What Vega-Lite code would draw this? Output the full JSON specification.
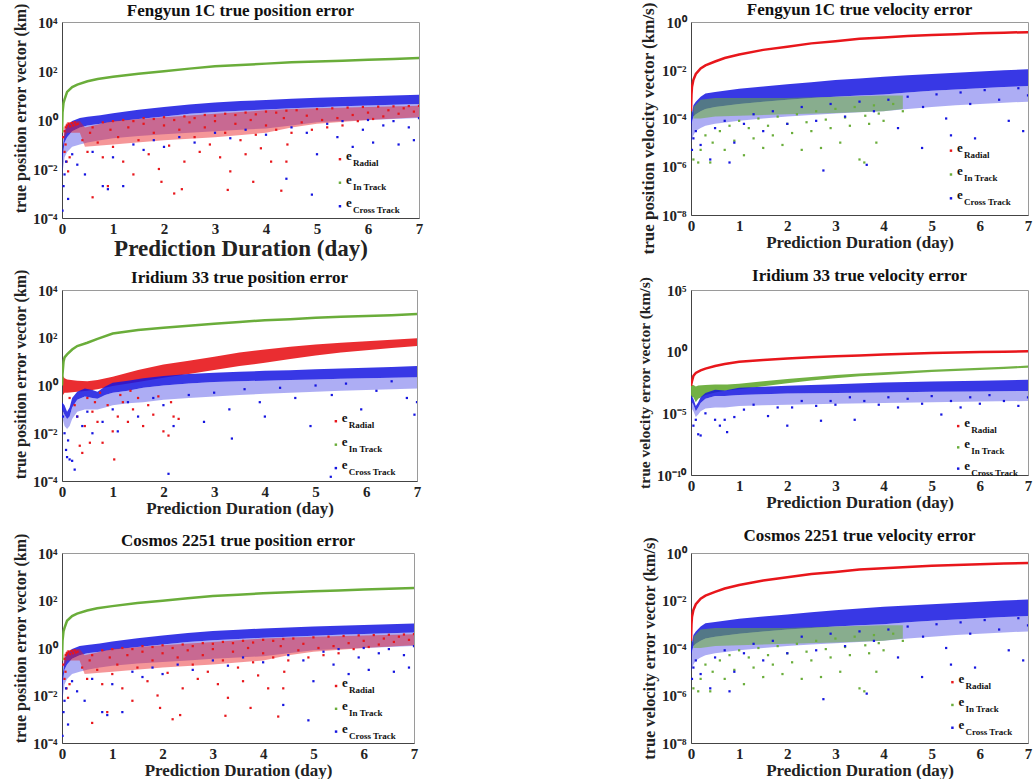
{
"$schema":"https://vega.github.io/schema/vega-lite/v6.json",
"background":"white",
"padding":{"left":12,"top":0,"right":0,"bottom":0},
"columns":2,
"spacing":{"row":72,"column":272},
"bounds":"flush",
"datasets":{
"leg":[{"s":"Radial","k":0},{"s":"In Track","k":1},{"s":"Cross Track","k":2}],
"fp_green":[{"t":0,"v":0.3},{"t":0.01,"v":2},{"t":0.03,"v":5},{"t":0.05,"v":7},{"t":0.1,"v":14},{"t":0.2,"v":22},{"t":0.3,"v":28},{"t":0.5,"v":38},{"t":0.7,"v":47},{"t":1,"v":58},{"t":1.5,"v":78},{"t":2,"v":98},{"t":2.5,"v":125},{"t":3,"v":155},{"t":3.5,"v":175},{"t":4,"v":200},{"t":4.5,"v":225},{"t":5,"v":245},{"t":5.5,"v":265},{"t":6,"v":288},{"t":6.5,"v":310},{"t":7,"v":340}],
"fp_bband":[{"t":0,"v":0.04,"m":0.02,"lo":0.005},{"t":0.05,"v":0.35,"m":0.12,"lo":0.03},{"t":0.1,"v":0.6,"m":0.2,"lo":0.05},{"t":0.2,"v":0.9,"m":0.35,"lo":0.08},{"t":0.35,"v":1.2,"m":0.5,"lo":0.1},{"t":0.5,"v":1.35,"m":0.6,"lo":0.12},{"t":0.75,"v":1.55,"m":0.7,"lo":0.15},{"t":1,"v":1.9,"m":0.85,"lo":0.18},{"t":1.5,"v":2.6,"m":1.1,"lo":0.22},{"t":2,"v":3.4,"m":1.4,"lo":0.26},{"t":2.5,"v":4.3,"m":1.8,"lo":0.3},{"t":3,"v":5.2,"m":2.1,"lo":0.35},{"t":3.5,"v":5.9,"m":2.4,"lo":0.4},{"t":4,"v":6.6,"m":2.7,"lo":0.45},{"t":4.5,"v":7.3,"m":3.0,"lo":0.6},{"t":5,"v":8.0,"m":3.3,"lo":0.8},{"t":5.5,"v":8.6,"m":3.6,"lo":0.9},{"t":6,"v":9.3,"m":3.9,"lo":1.0},{"t":6.5,"v":10,"m":4.2,"lo":1.1},{"t":7,"v":10.7,"m":4.5,"lo":1.2}],
"fp_rband":[{"t":0.03,"v":0.5,"lo":0.15},{"t":0.1,"v":0.8,"lo":0.3},{"t":0.35,"v":0.9,"lo":0.3},{"t":0.45,"v":0.5,"lo":0.08},{"t":1,"v":0.9,"lo":0.1},{"t":2,"v":1.3,"lo":0.15},{"t":3,"v":1.8,"lo":0.2},{"t":4,"v":2.5,"lo":0.3},{"t":4.5,"v":2.8,"lo":0.5},{"t":5,"v":3.0,"lo":0.7},{"t":6,"v":3.4,"lo":1.0},{"t":7,"v":3.8,"lo":1.3}],
"fp_red":[{"t":0.02,"v":0.2},{"t":0.05,"v":0.35},{"t":0.08,"v":0.5},{"t":0.1,"v":0.6},{"t":0.13,"v":0.7},{"t":0.16,"v":0.55},{"t":0.19,"v":0.75},{"t":0.22,"v":0.6},{"t":0.25,"v":0.8},{"t":0.28,"v":0.65},{"t":0.31,"v":0.7},{"t":0.05,"v":0.05},{"t":0.09,"v":0.02},{"t":0.12,"v":0.008},{"t":0.07,"v":0.1},{"t":0.15,"v":0.03},{"t":0.4,"v":0.15},{"t":0.5,"v":0.05},{"t":0.6,"v":0.0007},{"t":0.55,"v":0.3},{"t":0.7,"v":0.12},{"t":0.8,"v":0.03},{"t":0.9,"v":0.002},{"t":0.95,"v":0.4},{"t":1.0,"v":0.08},{"t":1.1,"v":0.2},{"t":1.2,"v":0.02},{"t":1.3,"v":0.5},{"t":1.4,"v":0.006},{"t":1.5,"v":0.15},{"t":1.6,"v":0.7},{"t":1.7,"v":0.04},{"t":1.8,"v":0.3},{"t":1.9,"v":0.01},{"t":1.95,"v":0.003},{"t":2.0,"v":0.6},{"t":2.1,"v":0.09},{"t":2.2,"v":0.001},{"t":2.3,"v":0.4},{"t":2.35,"v":0.0015},{"t":2.4,"v":0.02},{"t":2.5,"v":0.8},{"t":2.6,"v":0.2},{"t":2.7,"v":0.05},{"t":2.8,"v":0.5},{"t":2.9,"v":0.1},{"t":3.0,"v":0.9},{"t":3.1,"v":0.03},{"t":3.2,"v":0.3},{"t":3.25,"v":0.0014},{"t":3.3,"v":0.008},{"t":3.4,"v":0.7},{"t":3.5,"v":0.15},{"t":3.6,"v":0.04},{"t":3.7,"v":1.0},{"t":3.75,"v":0.003},{"t":3.8,"v":0.25},{"t":3.9,"v":0.07},{"t":4.0,"v":0.6},{"t":4.1,"v":0.02},{"t":4.2,"v":0.4},{"t":4.3,"v":0.0013},{"t":4.35,"v":1.2},{"t":4.4,"v":0.02},{"t":4.42,"v":0.1},{"t":0.6,"v":0.5},{"t":0.8,"v":0.8},{"t":1.0,"v":0.9},{"t":1.2,"v":1.0},{"t":1.4,"v":0.9},{"t":1.6,"v":1.2},{"t":1.8,"v":1.1},{"t":2.0,"v":1.3},{"t":2.2,"v":1.0},{"t":2.4,"v":1.4},{"t":2.6,"v":1.2},{"t":2.8,"v":1.6},{"t":3.0,"v":1.5},{"t":3.2,"v":1.8},{"t":3.4,"v":1.6},{"t":3.6,"v":2.0},{"t":3.8,"v":1.7},{"t":4.0,"v":2.2},{"t":4.2,"v":2.0},{"t":4.4,"v":2.4},{"t":4.5,"v":0.3},{"t":4.6,"v":2.5},{"t":4.7,"v":0.8},{"t":4.8,"v":1.5},{"t":4.9,"v":0.4},{"t":5.0,"v":2.8},{"t":5.1,"v":1.0},{"t":5.2,"v":0.5},{"t":5.3,"v":3.0},{"t":5.4,"v":1.2},{"t":5.5,"v":0.6},{"t":5.6,"v":3.2},{"t":5.7,"v":1.6},{"t":5.8,"v":0.9},{"t":5.9,"v":3.4},{"t":6.0,"v":2.0},{"t":6.1,"v":1.1},{"t":6.2,"v":3.5},{"t":6.3,"v":1.4},{"t":6.4,"v":2.5},{"t":6.5,"v":3.6},{"t":6.6,"v":1.8},{"t":6.7,"v":3.0},{"t":6.8,"v":3.7},{"t":6.9,"v":2.2},{"t":7.0,"v":3.8}],
"fp_blue":[{"t":0.01,"v":0.0002},{"t":0.03,"v":0.002},{"t":0.05,"v":0.006},{"t":0.08,"v":0.02},{"t":0.12,"v":0.0006},{"t":0.2,"v":0.04},{"t":0.3,"v":0.015},{"t":0.45,"v":0.006},{"t":0.6,"v":0.05},{"t":0.8,"v":0.002},{"t":0.9,"v":0.0015},{"t":1.0,"v":0.03},{"t":1.2,"v":0.002},{"t":1.4,"v":0.1},{"t":1.6,"v":0.06},{"t":1.8,"v":0.15},{"t":2.0,"v":0.08},{"t":2.3,"v":0.2},{"t":2.6,"v":0.12},{"t":3.0,"v":0.3},{"t":3.3,"v":0.18},{"t":3.6,"v":0.4},{"t":4.0,"v":0.25},{"t":4.4,"v":0.004},{"t":4.5,"v":0.5},{"t":4.8,"v":0.3},{"t":4.9,"v":0.0009},{"t":5.0,"v":0.04},{"t":5.2,"v":0.7},{"t":5.4,"v":0.2},{"t":5.5,"v":0.9},{"t":5.7,"v":0.08},{"t":5.9,"v":0.4},{"t":6.0,"v":1.0},{"t":6.1,"v":0.12},{"t":6.3,"v":0.6},{"t":6.5,"v":0.9},{"t":6.6,"v":0.1},{"t":6.8,"v":0.5},{"t":6.9,"v":0.15},{"t":7.0,"v":1.2}],
"ip_green":[{"t":0,"v":1},{"t":0.01,"v":3},{"t":0.03,"v":10},{"t":0.05,"v":15},{"t":0.1,"v":20},{"t":0.2,"v":32},{"t":0.3,"v":45},{"t":0.5,"v":62},{"t":0.7,"v":90},{"t":1,"v":150},{"t":1.5,"v":210},{"t":2,"v":260},{"t":2.5,"v":320},{"t":3,"v":390},{"t":3.5,"v":460},{"t":4,"v":540},{"t":4.5,"v":600},{"t":5,"v":690},{"t":5.5,"v":760},{"t":6,"v":810},{"t":6.5,"v":880},{"t":7,"v":1000}],
"ip_rband":[{"t":0.02,"v":2.5,"lo":0.4},{"t":0.05,"v":2.0,"lo":0.5},{"t":0.1,"v":1.8,"lo":0.5},{"t":0.3,"v":1.6,"lo":0.55},{"t":0.5,"v":1.5,"lo":0.6},{"t":0.7,"v":1.7,"lo":0.7},{"t":1.0,"v":2.3,"lo":0.95},{"t":1.5,"v":4.5,"lo":1.4},{"t":2.0,"v":7.5,"lo":2.1},{"t":2.5,"v":11,"lo":3},{"t":3.0,"v":16,"lo":4.5},{"t":3.5,"v":24,"lo":6.5},{"t":4.0,"v":32,"lo":9},{"t":4.5,"v":42,"lo":13},{"t":5.0,"v":52,"lo":18},{"t":5.5,"v":62,"lo":24},{"t":6.0,"v":72,"lo":30},{"t":6.5,"v":82,"lo":37},{"t":7.0,"v":95,"lo":45}],
"ip_bband":[{"t":0,"v":0.2,"m":0.1,"lo":0.05},{"t":0.05,"v":0.15,"m":0.06,"lo":0.02},{"t":0.1,"v":0.08,"m":0.04,"lo":0.015},{"t":0.15,"v":0.12,"m":0.05,"lo":0.02},{"t":0.2,"v":0.3,"m":0.12,"lo":0.04},{"t":0.3,"v":0.55,"m":0.25,"lo":0.08},{"t":0.45,"v":0.75,"m":0.35,"lo":0.1},{"t":0.6,"v":0.65,"m":0.3,"lo":0.1},{"t":0.7,"v":0.55,"m":0.28,"lo":0.1},{"t":0.85,"v":0.9,"m":0.4,"lo":0.12},{"t":1.0,"v":1.3,"m":0.5,"lo":0.15},{"t":1.3,"v":1.6,"m":0.6,"lo":0.18},{"t":1.6,"v":2.0,"m":0.8,"lo":0.2},{"t":2.0,"v":2.5,"m":1.0,"lo":0.25},{"t":2.5,"v":3.0,"m":1.2,"lo":0.3},{"t":3.0,"v":3.4,"m":1.4,"lo":0.35},{"t":3.5,"v":3.8,"m":1.5,"lo":0.4},{"t":4.0,"v":4.1,"m":1.6,"lo":0.45},{"t":4.5,"v":4.4,"m":1.7,"lo":0.5},{"t":5.0,"v":4.8,"m":1.8,"lo":0.55},{"t":5.5,"v":5.2,"m":1.9,"lo":0.6},{"t":6.0,"v":5.6,"m":2.0,"lo":0.65},{"t":6.5,"v":6.0,"m":2.1,"lo":0.7},{"t":7.0,"v":6.5,"m":2.2,"lo":0.75}],
"ip_red":[{"t":0.3,"v":0.05},{"t":0.35,"v":0.003},{"t":0.4,"v":0.0015},{"t":0.45,"v":0.02},{"t":0.55,"v":0.004},{"t":0.6,"v":0.08},{"t":0.7,"v":0.03},{"t":0.8,"v":0.004},{"t":0.9,"v":0.15},{"t":1.0,"v":0.012},{"t":1.03,"v":0.0008},{"t":1.1,"v":0.05},{"t":1.2,"v":0.2},{"t":1.3,"v":0.03},{"t":1.4,"v":0.1},{"t":1.5,"v":0.3},{"t":1.6,"v":0.02},{"t":1.7,"v":0.15},{"t":1.8,"v":0.06},{"t":1.9,"v":0.35},{"t":2.0,"v":0.012},{"t":2.1,"v":0.008},{"t":2.15,"v":0.2},{"t":2.2,"v":0.05},{"t":2.3,"v":0.04},{"t":0.5,"v":0.3},{"t":0.65,"v":0.2},{"t":0.75,"v":0.5},{"t":1.15,"v":0.4},{"t":1.35,"v":0.6},{"t":0.25,"v":0.15},{"t":0.15,"v":0.3}],
"ip_blue":[{"t":0.02,"v":0.05},{"t":0.05,"v":0.01},{"t":0.08,"v":0.002},{"t":0.1,"v":0.001},{"t":0.15,"v":0.0008},{"t":0.2,"v":0.0007},{"t":0.25,"v":0.0003},{"t":0.12,"v":0.005},{"t":0.3,"v":0.05},{"t":0.4,"v":0.02},{"t":0.5,"v":0.08},{"t":0.6,"v":0.01},{"t":0.8,"v":0.03},{"t":1.0,"v":0.1},{"t":1.1,"v":0.012},{"t":1.3,"v":0.2},{"t":1.5,"v":0.05},{"t":1.8,"v":0.3},{"t":2.0,"v":0.15},{"t":2.1,"v":0.0002},{"t":2.2,"v":0.02},{"t":2.5,"v":0.4},{"t":2.8,"v":0.03},{"t":3.0,"v":0.5},{"t":3.3,"v":0.1},{"t":3.35,"v":0.006},{"t":3.6,"v":0.7},{"t":3.9,"v":0.2},{"t":4.0,"v":0.05},{"t":4.3,"v":0.8},{"t":4.6,"v":0.3},{"t":4.9,"v":0.02},{"t":5.0,"v":1.0},{"t":5.3,"v":0.00015},{"t":5.32,"v":0.4},{"t":5.6,"v":1.2},{"t":5.9,"v":0.1},{"t":6.2,"v":0.6},{"t":6.5,"v":1.5},{"t":6.8,"v":0.3},{"t":6.95,"v":0.06},{"t":7.0,"v":0.2}],
"fv_red":[{"t":0,"v":0.0002},{"t":0.01,"v":0.001},{"t":0.02,"v":0.002},{"t":0.05,"v":0.004},{"t":0.1,"v":0.007},{"t":0.2,"v":0.012},{"t":0.3,"v":0.016},{"t":0.5,"v":0.023},{"t":0.7,"v":0.032},{"t":1,"v":0.045},{"t":1.5,"v":0.07},{"t":2,"v":0.095},{"t":2.5,"v":0.13},{"t":3,"v":0.16},{"t":3.5,"v":0.2},{"t":4,"v":0.23},{"t":4.5,"v":0.26},{"t":5,"v":0.29},{"t":5.5,"v":0.31},{"t":6,"v":0.34},{"t":6.5,"v":0.36},{"t":7,"v":0.38}],
"fv_bband":[{"t":0,"v":1e-4,"m":5e-5,"lo":1e-5},{"t":0.05,"v":3.5e-4,"m":1.2e-4,"lo":2e-5},{"t":0.1,"v":5e-4,"m":1.5e-4,"lo":3e-5},{"t":0.2,"v":8e-4,"m":2e-4,"lo":4e-5},{"t":0.3,"v":1.1e-3,"m":2.5e-4,"lo":5e-5},{"t":0.5,"v":1.25e-3,"m":3e-4,"lo":6e-5},{"t":1,"v":1.7e-3,"m":4e-4,"lo":8e-5},{"t":1.5,"v":2.1e-3,"m":5e-4,"lo":1e-4},{"t":2,"v":2.6e-3,"m":6e-4,"lo":1.2e-4},{"t":2.5,"v":3.2e-3,"m":7e-4,"lo":1.4e-4},{"t":3,"v":3.9e-3,"m":8e-4,"lo":1.6e-4},{"t":3.5,"v":4.6e-3,"m":9e-4,"lo":1.8e-4},{"t":4,"v":5.4e-3,"m":1e-3,"lo":2e-4},{"t":4.5,"v":6.2e-3,"m":1.2e-3,"lo":2.5e-4},{"t":5,"v":7e-3,"m":1.4e-3,"lo":3e-4},{"t":5.5,"v":7.9e-3,"m":1.6e-3,"lo":3.5e-4},{"t":6,"v":8.9e-3,"m":1.8e-3,"lo":4e-4},{"t":6.5,"v":1e-2,"m":2e-3,"lo":4.5e-4},{"t":7,"v":1.1e-2,"m":2.2e-3,"lo":5e-4}],
"fv_gband":[{"t":0.05,"v":3e-4,"lo":1e-4},{"t":0.2,"v":6e-4,"lo":1e-4},{"t":0.5,"v":7e-4,"lo":1.2e-4},{"t":1,"v":7e-4,"lo":1.3e-4},{"t":2,"v":7e-4,"lo":1.5e-4},{"t":3,"v":8e-4,"lo":1.7e-4},{"t":4,"v":9e-4,"lo":2e-4},{"t":4.4,"v":9e-4,"lo":2.5e-4}],
"fv_green":[{"t":0.05,"v":2e-6},{"t":0.15,"v":1.5e-6},{"t":0.2,"v":5e-6},{"t":0.3,"v":2e-5},{"t":0.4,"v":1.5e-6},{"t":0.45,"v":1e-5},{"t":0.6,"v":3e-5},{"t":0.7,"v":5e-6},{"t":0.8,"v":5e-5},{"t":0.9,"v":1.2e-5},{"t":1.0,"v":8e-5},{"t":1.1,"v":3e-6},{"t":1.2,"v":4e-5},{"t":1.3,"v":1.5e-5},{"t":1.4,"v":1e-4},{"t":1.5,"v":6e-6},{"t":1.6,"v":5e-5},{"t":1.7,"v":2e-5},{"t":1.8,"v":1.2e-4},{"t":1.9,"v":8e-6},{"t":2.0,"v":6e-5},{"t":2.1,"v":2.5e-5},{"t":2.2,"v":1.5e-4},{"t":2.3,"v":5e-6},{"t":2.4,"v":7e-5},{"t":2.5,"v":3e-5},{"t":2.6,"v":2e-4},{"t":2.7,"v":6e-6},{"t":2.8,"v":9e-5},{"t":2.9,"v":4e-5},{"t":3.0,"v":2.5e-4},{"t":3.1,"v":1e-5},{"t":3.2,"v":1.1e-4},{"t":3.3,"v":5e-5},{"t":3.4,"v":3e-4},{"t":3.5,"v":2e-6},{"t":3.6,"v":1.5e-6},{"t":3.62,"v":1.3e-4},{"t":3.7,"v":6e-5},{"t":3.8,"v":3.5e-4},{"t":3.85,"v":1e-5},{"t":3.9,"v":1.6e-4},{"t":4.0,"v":8e-5},{"t":4.2,"v":4e-4},{"t":4.4,"v":2e-4}],
"fv_blue":[{"t":0.02,"v":5e-6},{"t":0.05,"v":1.5e-5},{"t":0.1,"v":3e-5},{"t":0.2,"v":8e-6},{"t":0.4,"v":2e-6},{"t":0.5,"v":4e-5},{"t":0.7,"v":8e-5},{"t":0.8,"v":1.5e-6},{"t":0.9,"v":1e-5},{"t":1.1,"v":6e-5},{"t":1.3,"v":1.5e-4},{"t":1.5,"v":3e-5},{"t":1.7,"v":2e-4},{"t":2.0,"v":6e-5},{"t":2.3,"v":3e-4},{"t":2.6,"v":8e-5},{"t":2.75,"v":7e-7},{"t":2.9,"v":4e-4},{"t":3.2,"v":1.2e-4},{"t":3.5,"v":5e-4},{"t":3.65,"v":1.2e-6},{"t":3.8,"v":2e-4},{"t":4.1,"v":6e-4},{"t":4.3,"v":4e-5},{"t":4.5,"v":8e-4},{"t":4.8,"v":6e-6},{"t":4.82,"v":3e-4},{"t":5.1,"v":1e-3},{"t":5.3,"v":1e-4},{"t":5.4,"v":2e-5},{"t":5.6,"v":1.2e-3},{"t":5.8,"v":4e-4},{"t":5.9,"v":1.5e-5},{"t":6.1,"v":1.5e-3},{"t":6.4,"v":6e-4},{"t":6.6,"v":8e-5},{"t":6.8,"v":1.8e-3},{"t":6.9,"v":3e-5},{"t":7.0,"v":9e-4}],
"iv_red":[{"t":0,"v":1.7e-3},{"t":0.02,"v":4e-3},{"t":0.05,"v":0.011},{"t":0.1,"v":0.019},{"t":0.2,"v":0.03},{"t":0.3,"v":0.042},{"t":0.5,"v":0.068},{"t":0.7,"v":0.1},{"t":1,"v":0.15},{"t":1.5,"v":0.21},{"t":2,"v":0.28},{"t":2.5,"v":0.35},{"t":3,"v":0.43},{"t":3.5,"v":0.5},{"t":4,"v":0.6},{"t":4.5,"v":0.68},{"t":5,"v":0.78},{"t":5.5,"v":0.85},{"t":6,"v":0.93},{"t":6.5,"v":1.0},{"t":7,"v":1.07}],
"iv_gband":[{"t":0,"v":2e-3,"lo":2e-4},{"t":0.05,"v":2e-3,"lo":2e-4},{"t":0.1,"v":1.5e-3,"lo":8e-5},{"t":0.15,"v":1.8e-3,"lo":1.5e-4},{"t":0.3,"v":2e-3,"lo":3e-4},{"t":0.5,"v":2.2e-3,"lo":5e-4},{"t":0.75,"v":2.2e-3,"lo":7e-4},{"t":1,"v":2.5e-3,"lo":9e-4},{"t":1.5,"v":4e-3,"lo":1.6e-3},{"t":2,"v":6e-3,"lo":2.8e-3},{"t":2.5,"v":9e-3,"lo":4.5e-3},{"t":3,"v":0.013,"lo":7e-3},{"t":3.5,"v":0.017,"lo":0.01},{"t":4,"v":0.021,"lo":0.013},{"t":4.5,"v":0.027,"lo":0.017},{"t":5,"v":0.034,"lo":0.022},{"t":5.5,"v":0.041,"lo":0.027},{"t":6,"v":0.049,"lo":0.033},{"t":6.5,"v":0.06,"lo":0.04},{"t":7,"v":0.075,"lo":0.05}],
"iv_bband":[{"t":0,"v":3e-4,"m":1e-4,"lo":3e-5},{"t":0.05,"v":1.5e-4,"m":5e-5,"lo":1.5e-5},{"t":0.1,"v":4e-5,"m":1.5e-5,"lo":5e-6},{"t":0.15,"v":8e-5,"m":3e-5,"lo":8e-6},{"t":0.2,"v":2e-4,"m":7e-5,"lo":1.5e-5},{"t":0.3,"v":4.5e-4,"m":1.5e-4,"lo":2.5e-5},{"t":0.5,"v":8e-4,"m":2.5e-4,"lo":3e-5},{"t":0.7,"v":7e-4,"m":2.5e-4,"lo":3e-5},{"t":1,"v":1.2e-3,"m":3e-4,"lo":4e-5},{"t":1.5,"v":1.4e-3,"m":3.5e-4,"lo":4.5e-5},{"t":2,"v":1.7e-3,"m":4e-4,"lo":5e-5},{"t":3,"v":2.3e-3,"m":4.5e-4,"lo":6e-5},{"t":4,"v":3.2e-3,"m":5e-4,"lo":7e-5},{"t":5,"v":3.8e-3,"m":5.5e-4,"lo":8e-5},{"t":6,"v":4.4e-3,"m":6e-4,"lo":9e-5},{"t":7,"v":5.2e-3,"m":6.5e-4,"lo":1e-4}],
"iv_blue":[{"t":0.05,"v":1e-6},{"t":0.1,"v":3e-6},{"t":0.15,"v":2e-7},{"t":0.2,"v":1.6e-7},{"t":0.3,"v":1e-5},{"t":0.5,"v":3e-6},{"t":0.6,"v":1e-6},{"t":0.7,"v":3e-6},{"t":0.75,"v":3e-7},{"t":0.9,"v":5e-6},{"t":1.1,"v":2e-5},{"t":1.3,"v":5e-5},{"t":1.6,"v":6e-6},{"t":1.8,"v":3e-5},{"t":2.0,"v":1e-6},{"t":2.1,"v":3e-5},{"t":2.3,"v":1e-4},{"t":2.6,"v":4e-5},{"t":2.7,"v":2.5e-6},{"t":2.9,"v":1e-4},{"t":3.0,"v":5e-5},{"t":3.3,"v":2e-4},{"t":3.4,"v":3e-6},{"t":3.6,"v":1e-4},{"t":3.9,"v":5e-5},{"t":4.1,"v":2e-4},{"t":4.3,"v":3e-5},{"t":4.5,"v":1.5e-4},{"t":4.8,"v":6e-5},{"t":5.0,"v":2.5e-4},{"t":5.2,"v":8e-6},{"t":5.4,"v":1e-4},{"t":5.6,"v":3e-5},{"t":5.8,"v":2e-4},{"t":6.0,"v":6e-5},{"t":6.2,"v":3e-4},{"t":6.5,"v":1e-4},{"t":6.8,"v":4e-5},{"t":7.0,"v":2e-4}]
},
"concat":[
{"title":{"text":"Fengyun 1C true position error","offset":-17},"width":357,"height":196,"resolve":{"scale":{"y":"independent"}},
"layer":[
{"encoding":{"x":{"field":"t","type":"quantitative","scale":{"domain":[0,7],"nice":false},"axis":{"values":[0,1,2,3,4,5,6,7],"title":"Prediction Duration (day)","titleFontSize":23}}},
"layer":[
{"data":{"name":"fp_bband"},"mark":{"type":"area","color":"#1515e0","opacity":0.35,"clip":true},"encoding":{"y":{"field":"m","type":"quantitative","scale":{"type":"log","domain":[1e-4,1e4]},"axis":{"values":[1e-4,1e-2,1,100,1e4],"title":"true position error vector (km)","titleY":86,"labelExpr":"'10' + replace(replace(replace(replace(replace(replace(replace(replace(replace(replace(replace(toString(round(log(datum.value)/LN10)),'-','⁻'),'0','⁰'),'1','¹'),'2','²'),'3','³'),'4','⁴'),'5','⁵'),'6','⁶'),'7','⁷'),'8','⁸'),'9','⁹')"}},"y2":{"field":"lo"}}},
{"data":{"name":"fp_bband"},"mark":{"type":"area","color":"#1515e0","opacity":0.85,"clip":true},"encoding":{"y":{"field":"v","type":"quantitative","scale":{"type":"log","domain":[1e-4,1e4]}},"y2":{"field":"m"}}},
{"data":{"name":"fp_rband"},"mark":{"type":"area","color":"#e8161b","opacity":0.45,"clip":true},"encoding":{"y":{"field":"v","type":"quantitative","scale":{"type":"log","domain":[1e-4,1e4]}},"y2":{"field":"lo"}}},
{"data":{"name":"fp_red"},"mark":{"type":"point","shape":"square","filled":true,"size":5,"opacity":1,"color":"#e8161b","clip":true},"encoding":{"y":{"field":"v","type":"quantitative","scale":{"type":"log","domain":[1e-4,1e4]}}}},
{"data":{"name":"fp_blue"},"mark":{"type":"point","shape":"square","filled":true,"size":5,"opacity":1,"color":"#1515e0","clip":true},"encoding":{"y":{"field":"v","type":"quantitative","scale":{"type":"log","domain":[1e-4,1e4]}}}},
{"data":{"name":"fp_green"},"mark":{"type":"line","color":"#6aad3a","strokeWidth":2.5,"clip":true},"encoding":{"y":{"field":"v","type":"quantitative","scale":{"type":"log","domain":[1e-4,1e4]}}}}
]},
{"data":{"name":"leg"},"encoding":{"x":{"datum":5.45,"type":"quantitative"},"y":{"field":"k","type":"quantitative","scale":{"domain":[-5.833,2.5],"reverse":true},"axis":null}},
"layer":[
{"mark":{"type":"point","shape":"square","filled":true,"size":6,"opacity":1},"encoding":{"color":{"field":"s","type":"nominal","scale":{"domain":["Radial","In Track","Cross Track"],"range":["#e8161b","#6aad3a","#1515e0"]},"legend":null}}},
{"mark":{"type":"text","text":"e","align":"left","baseline":"middle","dx":6,"dy":-3,"font":"Liberation Serif","fontWeight":"bold","fontSize":13,"color":"#111"}},
{"mark":{"type":"text","align":"left","baseline":"middle","dx":13,"dy":4,"font":"Liberation Serif","fontWeight":"bold","fontSize":9,"color":"#111"},"encoding":{"text":{"field":"s"}}}
]}
]},
{"title":{"text":"Fengyun 1C true velocity error","offset":-17},"width":337,"height":193,"resolve":{"scale":{"y":"independent"}},
"layer":[
{"encoding":{"x":{"field":"t","type":"quantitative","scale":{"domain":[0,7],"nice":false},"axis":{"values":[0,1,2,3,4,5,6,7],"title":"Prediction Duration (day)"}}},
"layer":[
{"data":{"name":"fv_bband"},"mark":{"type":"area","color":"#1515e0","opacity":0.35,"clip":true},"encoding":{"y":{"field":"m","type":"quantitative","scale":{"type":"log","domain":[1e-8,1]},"axis":{"values":[1e-8,1e-6,1e-4,1e-2,1],"title":"true position velocity vector (km/s)","titleFontSize":17,"titleY":106,"labelExpr":"'10' + replace(replace(replace(replace(replace(replace(replace(replace(replace(replace(replace(toString(round(log(datum.value)/LN10)),'-','⁻'),'0','⁰'),'1','¹'),'2','²'),'3','³'),'4','⁴'),'5','⁵'),'6','⁶'),'7','⁷'),'8','⁸'),'9','⁹')"}},"y2":{"field":"lo"}}},
{"data":{"name":"fv_bband"},"mark":{"type":"area","color":"#1515e0","opacity":0.85,"clip":true},"encoding":{"y":{"field":"v","type":"quantitative","scale":{"type":"log","domain":[1e-8,1]}},"y2":{"field":"m"}}},
{"data":{"name":"fv_gband"},"mark":{"type":"area","color":"#6aad3a","opacity":0.55,"clip":true},"encoding":{"y":{"field":"v","type":"quantitative","scale":{"type":"log","domain":[1e-8,1]}},"y2":{"field":"lo"}}},
{"data":{"name":"fv_green"},"mark":{"type":"point","shape":"square","filled":true,"size":5,"opacity":1,"color":"#6aad3a","clip":true},"encoding":{"y":{"field":"v","type":"quantitative","scale":{"type":"log","domain":[1e-8,1]}}}},
{"data":{"name":"fv_blue"},"mark":{"type":"point","shape":"square","filled":true,"size":5,"opacity":1,"color":"#1515e0","clip":true},"encoding":{"y":{"field":"v","type":"quantitative","scale":{"type":"log","domain":[1e-8,1]}}}},
{"data":{"name":"fv_red"},"mark":{"type":"line","color":"#e8161b","strokeWidth":2.5,"clip":true},"encoding":{"y":{"field":"v","type":"quantitative","scale":{"type":"log","domain":[1e-8,1]}}}}
]},
{"data":{"name":"leg"},"encoding":{"x":{"datum":5.4,"type":"quantitative"},"y":{"field":"k","type":"quantitative","scale":{"domain":[-5.4,2.7],"reverse":true},"axis":null}},
"layer":[
{"mark":{"type":"point","shape":"square","filled":true,"size":6,"opacity":1},"encoding":{"color":{"field":"s","type":"nominal","scale":{"domain":["Radial","In Track","Cross Track"],"range":["#e8161b","#6aad3a","#1515e0"]},"legend":null}}},
{"mark":{"type":"text","text":"e","align":"left","baseline":"middle","dx":6,"dy":-3,"font":"Liberation Serif","fontWeight":"bold","fontSize":13,"color":"#111"}},
{"mark":{"type":"text","align":"left","baseline":"middle","dx":13,"dy":4,"font":"Liberation Serif","fontWeight":"bold","fontSize":9,"color":"#111"},"encoding":{"text":{"field":"s"}}}
]}
]},
{"title":{"text":"Iridium 33  true position error","offset":-18},"width":355,"height":191,"resolve":{"scale":{"y":"independent"}},
"layer":[
{"encoding":{"x":{"field":"t","type":"quantitative","scale":{"domain":[0,7],"nice":false},"axis":{"values":[0,1,2,3,4,5,6,7],"title":"Prediction Duration (day)"}}},
"layer":[
{"data":{"name":"ip_rband"},"mark":{"type":"area","color":"#e8161b","opacity":0.9,"clip":true},"encoding":{"y":{"field":"v","type":"quantitative","scale":{"type":"log","domain":[1e-4,1e4]},"axis":{"values":[1e-4,1e-2,1,100,1e4],"title":"true position error vector (km)","titleY":84,"labelExpr":"'10' + replace(replace(replace(replace(replace(replace(replace(replace(replace(replace(replace(toString(round(log(datum.value)/LN10)),'-','⁻'),'0','⁰'),'1','¹'),'2','²'),'3','³'),'4','⁴'),'5','⁵'),'6','⁶'),'7','⁷'),'8','⁸'),'9','⁹')"}},"y2":{"field":"lo"}}},
{"data":{"name":"ip_bband"},"mark":{"type":"area","color":"#1515e0","opacity":0.35,"clip":true},"encoding":{"y":{"field":"m","type":"quantitative","scale":{"type":"log","domain":[1e-4,1e4]}},"y2":{"field":"lo"}}},
{"data":{"name":"ip_bband"},"mark":{"type":"area","color":"#1515e0","opacity":0.85,"clip":true},"encoding":{"y":{"field":"v","type":"quantitative","scale":{"type":"log","domain":[1e-4,1e4]}},"y2":{"field":"m"}}},
{"data":{"name":"ip_red"},"mark":{"type":"point","shape":"square","filled":true,"size":5,"opacity":1,"color":"#e8161b","clip":true},"encoding":{"y":{"field":"v","type":"quantitative","scale":{"type":"log","domain":[1e-4,1e4]}}}},
{"data":{"name":"ip_blue"},"mark":{"type":"point","shape":"square","filled":true,"size":5,"opacity":1,"color":"#1515e0","clip":true},"encoding":{"y":{"field":"v","type":"quantitative","scale":{"type":"log","domain":[1e-4,1e4]}}}},
{"data":{"name":"ip_green"},"mark":{"type":"line","color":"#6aad3a","strokeWidth":2.5,"clip":true},"encoding":{"y":{"field":"v","type":"quantitative","scale":{"type":"log","domain":[1e-4,1e4]}}}}
]},
{"data":{"name":"leg"},"encoding":{"x":{"datum":5.4,"type":"quantitative"},"y":{"field":"k","type":"quantitative","scale":{"domain":[-5.6,2.55],"reverse":true},"axis":null}},
"layer":[
{"mark":{"type":"point","shape":"square","filled":true,"size":6,"opacity":1},"encoding":{"color":{"field":"s","type":"nominal","scale":{"domain":["Radial","In Track","Cross Track"],"range":["#e8161b","#6aad3a","#1515e0"]},"legend":null}}},
{"mark":{"type":"text","text":"e","align":"left","baseline":"middle","dx":6,"dy":-3,"font":"Liberation Serif","fontWeight":"bold","fontSize":13,"color":"#111"}},
{"mark":{"type":"text","align":"left","baseline":"middle","dx":13,"dy":4,"font":"Liberation Serif","fontWeight":"bold","fontSize":9,"color":"#111"},"encoding":{"text":{"field":"s"}}}
]}
]},
{"title":{"text":"Iridium 33  true velocity error","offset":-9},"width":337,"height":185,"resolve":{"scale":{"y":"independent"}},
"layer":[
{"encoding":{"x":{"field":"t","type":"quantitative","scale":{"domain":[0,7],"nice":false},"axis":{"values":[0,1,2,3,4,5,6,7],"title":"Prediction Duration (day)"}}},
"layer":[
{"data":{"name":"iv_gband"},"mark":{"type":"area","color":"#6aad3a","opacity":0.95,"clip":true},"encoding":{"y":{"field":"v","type":"quantitative","scale":{"type":"log","domain":[1e-10,1e5]},"axis":{"values":[1e-10,1e-5,1,1e5],"title":"true velocity error vector (km/s)","titleFontSize":15.5,"labelExpr":"'10' + replace(replace(replace(replace(replace(replace(replace(replace(replace(replace(replace(toString(round(log(datum.value)/LN10)),'-','⁻'),'0','⁰'),'1','¹'),'2','²'),'3','³'),'4','⁴'),'5','⁵'),'6','⁶'),'7','⁷'),'8','⁸'),'9','⁹')"}},"y2":{"field":"lo"}}},
{"data":{"name":"iv_bband"},"mark":{"type":"area","color":"#1515e0","opacity":0.35,"clip":true},"encoding":{"y":{"field":"m","type":"quantitative","scale":{"type":"log","domain":[1e-10,1e5]}},"y2":{"field":"lo"}}},
{"data":{"name":"iv_bband"},"mark":{"type":"area","color":"#1515e0","opacity":0.85,"clip":true},"encoding":{"y":{"field":"v","type":"quantitative","scale":{"type":"log","domain":[1e-10,1e5]}},"y2":{"field":"m"}}},
{"data":{"name":"iv_blue"},"mark":{"type":"point","shape":"square","filled":true,"size":5,"opacity":1,"color":"#1515e0","clip":true},"encoding":{"y":{"field":"v","type":"quantitative","scale":{"type":"log","domain":[1e-10,1e5]}}}},
{"data":{"name":"iv_red"},"mark":{"type":"line","color":"#e8161b","strokeWidth":2.5,"clip":true},"encoding":{"y":{"field":"v","type":"quantitative","scale":{"type":"log","domain":[1e-10,1e5]}}}}
]},
{"data":{"name":"leg"},"encoding":{"x":{"datum":5.55,"type":"quantitative"},"y":{"field":"k","type":"quantitative","scale":{"domain":[-6.4,2.3],"reverse":true},"axis":null}},
"layer":[
{"mark":{"type":"point","shape":"square","filled":true,"size":6,"opacity":1},"encoding":{"color":{"field":"s","type":"nominal","scale":{"domain":["Radial","In Track","Cross Track"],"range":["#e8161b","#6aad3a","#1515e0"]},"legend":null}}},
{"mark":{"type":"text","text":"e","align":"left","baseline":"middle","dx":6,"dy":-3,"font":"Liberation Serif","fontWeight":"bold","fontSize":13,"color":"#111"}},
{"mark":{"type":"text","align":"left","baseline":"middle","dx":13,"dy":4,"font":"Liberation Serif","fontWeight":"bold","fontSize":9,"color":"#111"},"encoding":{"text":{"field":"s"}}}
]}
]},
{"title":{"text":"Cosmos 2251 true position error","offset":-17},"width":352,"height":190,"resolve":{"scale":{"y":"independent"}},
"layer":[
{"encoding":{"x":{"field":"t","type":"quantitative","scale":{"domain":[0,7],"nice":false},"axis":{"values":[0,1,2,3,4,5,6,7],"title":"Prediction Duration (day)"}}},
"layer":[
{"data":{"name":"fp_bband"},"mark":{"type":"area","color":"#1515e0","opacity":0.35,"clip":true},"encoding":{"y":{"field":"m","type":"quantitative","scale":{"type":"log","domain":[1e-4,1e4]},"axis":{"values":[1e-4,1e-2,1,100,1e4],"title":"true position error vector (km)","titleY":85,"labelExpr":"'10' + replace(replace(replace(replace(replace(replace(replace(replace(replace(replace(replace(toString(round(log(datum.value)/LN10)),'-','⁻'),'0','⁰'),'1','¹'),'2','²'),'3','³'),'4','⁴'),'5','⁵'),'6','⁶'),'7','⁷'),'8','⁸'),'9','⁹')"}},"y2":{"field":"lo"}}},
{"data":{"name":"fp_bband"},"mark":{"type":"area","color":"#1515e0","opacity":0.85,"clip":true},"encoding":{"y":{"field":"v","type":"quantitative","scale":{"type":"log","domain":[1e-4,1e4]}},"y2":{"field":"m"}}},
{"data":{"name":"fp_rband"},"mark":{"type":"area","color":"#e8161b","opacity":0.45,"clip":true},"encoding":{"y":{"field":"v","type":"quantitative","scale":{"type":"log","domain":[1e-4,1e4]}},"y2":{"field":"lo"}}},
{"data":{"name":"fp_red"},"mark":{"type":"point","shape":"square","filled":true,"size":5,"opacity":1,"color":"#e8161b","clip":true},"encoding":{"y":{"field":"v","type":"quantitative","scale":{"type":"log","domain":[1e-4,1e4]}}}},
{"data":{"name":"fp_blue"},"mark":{"type":"point","shape":"square","filled":true,"size":5,"opacity":1,"color":"#1515e0","clip":true},"encoding":{"y":{"field":"v","type":"quantitative","scale":{"type":"log","domain":[1e-4,1e4]}}}},
{"data":{"name":"fp_green"},"mark":{"type":"line","color":"#6aad3a","strokeWidth":2.5,"clip":true},"encoding":{"y":{"field":"v","type":"quantitative","scale":{"type":"log","domain":[1e-4,1e4]}}}}
]},
{"data":{"name":"leg"},"encoding":{"x":{"datum":5.45,"type":"quantitative"},"y":{"field":"k","type":"quantitative","scale":{"domain":[-5.833,2.5],"reverse":true},"axis":null}},
"layer":[
{"mark":{"type":"point","shape":"square","filled":true,"size":6,"opacity":1},"encoding":{"color":{"field":"s","type":"nominal","scale":{"domain":["Radial","In Track","Cross Track"],"range":["#e8161b","#6aad3a","#1515e0"]},"legend":null}}},
{"mark":{"type":"text","text":"e","align":"left","baseline":"middle","dx":6,"dy":-3,"font":"Liberation Serif","fontWeight":"bold","fontSize":13,"color":"#111"}},
{"mark":{"type":"text","align":"left","baseline":"middle","dx":13,"dy":4,"font":"Liberation Serif","fontWeight":"bold","fontSize":9,"color":"#111"},"encoding":{"text":{"field":"s"}}}
]}
]},
{"title":{"text":"Cosmos 2251 true velocity error","offset":-9},"width":337,"height":190,"resolve":{"scale":{"y":"independent"}},
"layer":[
{"encoding":{"x":{"field":"t","type":"quantitative","scale":{"domain":[0,7],"nice":false},"axis":{"values":[0,1,2,3,4,5,6,7],"title":"Prediction Duration (day)"}}},
"layer":[
{"data":{"name":"fv_bband"},"mark":{"type":"area","color":"#1515e0","opacity":0.35,"clip":true},"encoding":{"y":{"field":"m","type":"quantitative","scale":{"type":"log","domain":[1e-8,1]},"axis":{"values":[1e-8,1e-6,1e-4,1e-2,1],"title":"true velocity error vector (km/s)","titleFontSize":16.3,"labelExpr":"'10' + replace(replace(replace(replace(replace(replace(replace(replace(replace(replace(replace(toString(round(log(datum.value)/LN10)),'-','⁻'),'0','⁰'),'1','¹'),'2','²'),'3','³'),'4','⁴'),'5','⁵'),'6','⁶'),'7','⁷'),'8','⁸'),'9','⁹')"}},"y2":{"field":"lo"}}},
{"data":{"name":"fv_bband"},"mark":{"type":"area","color":"#1515e0","opacity":0.85,"clip":true},"encoding":{"y":{"field":"v","type":"quantitative","scale":{"type":"log","domain":[1e-8,1]}},"y2":{"field":"m"}}},
{"data":{"name":"fv_gband"},"mark":{"type":"area","color":"#6aad3a","opacity":0.55,"clip":true},"encoding":{"y":{"field":"v","type":"quantitative","scale":{"type":"log","domain":[1e-8,1]}},"y2":{"field":"lo"}}},
{"data":{"name":"fv_green"},"mark":{"type":"point","shape":"square","filled":true,"size":5,"opacity":1,"color":"#6aad3a","clip":true},"encoding":{"y":{"field":"v","type":"quantitative","scale":{"type":"log","domain":[1e-8,1]}}}},
{"data":{"name":"fv_blue"},"mark":{"type":"point","shape":"square","filled":true,"size":5,"opacity":1,"color":"#1515e0","clip":true},"encoding":{"y":{"field":"v","type":"quantitative","scale":{"type":"log","domain":[1e-8,1]}}}},
{"data":{"name":"fv_red"},"mark":{"type":"line","color":"#e8161b","strokeWidth":2.5,"clip":true},"encoding":{"y":{"field":"v","type":"quantitative","scale":{"type":"log","domain":[1e-8,1]}}}}
]},
{"data":{"name":"leg"},"encoding":{"x":{"datum":5.43,"type":"quantitative"},"y":{"field":"k","type":"quantitative","scale":{"domain":[-5.67,2.67],"reverse":true},"axis":null}},
"layer":[
{"mark":{"type":"point","shape":"square","filled":true,"size":6,"opacity":1},"encoding":{"color":{"field":"s","type":"nominal","scale":{"domain":["Radial","In Track","Cross Track"],"range":["#e8161b","#6aad3a","#1515e0"]},"legend":null}}},
{"mark":{"type":"text","text":"e","align":"left","baseline":"middle","dx":6,"dy":-3,"font":"Liberation Serif","fontWeight":"bold","fontSize":13,"color":"#111"}},
{"mark":{"type":"text","align":"left","baseline":"middle","dx":13,"dy":4,"font":"Liberation Serif","fontWeight":"bold","fontSize":9,"color":"#111"},"encoding":{"text":{"field":"s"}}}
]}
]}
],
"config":{
"font":"Liberation Serif",
"view":{"stroke":"#9a9a9a","strokeWidth":1},
"title":{"font":"Liberation Serif","fontSize":17,"fontWeight":"bold","color":"#111"},
"axis":{"labelFont":"Liberation Serif","labelFontWeight":"bold","labelFontSize":15,"labelColor":"#222","titleFont":"Liberation Serif","titleFontWeight":"bold","titleFontSize":17,"titleColor":"#222","grid":false,"ticks":false,"domainColor":"#444","labelPadding":5,"labelFlush":false},
"axisY":{"titleFontSize":16,"titlePadding":4},
"axisX":{"titlePadding":1,"labelPadding":3}
}
}
